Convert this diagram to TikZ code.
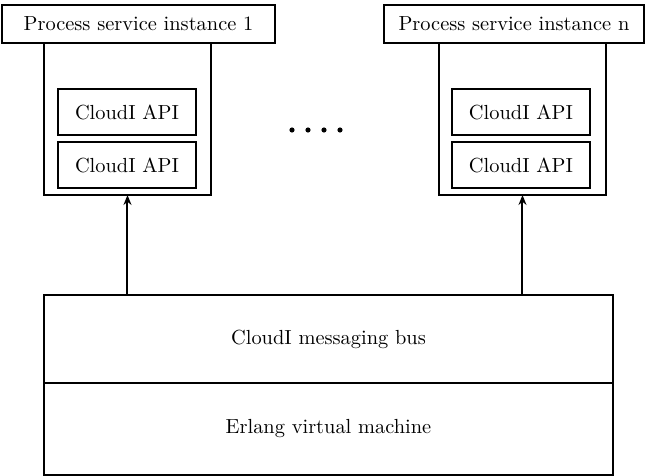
\documentclass[tikz,border=0pt]{standalone}
\usetikzlibrary{arrows.meta,calc}
\begin{document}
\begin{tikzpicture}[x=0.5pt,y=-0.5pt,
  box/.style={draw,line width=1pt,inner sep=0pt,outer sep=0pt,font=\fontsize{10.2}{12}\selectfont},
  arr/.style={line width=1pt,-{Stealth[length=5pt,width=4pt]}}]
\useasboundingbox (0,0) rectangle (645,476);
% outer boxes
\draw[box] (44,43) rectangle (211,195);
\node (outer1) [minimum width=83.5pt,minimum height=76pt,inner sep=0pt,outer sep=0pt] at (127.5,119) {};
\draw[box] (439,43) rectangle (606,195);
\node (outer2) [minimum width=83.5pt,minimum height=76pt,inner sep=0pt,outer sep=0pt] at (522.5,119) {};
% titles
\node[box,fill=white,minimum width=136.5pt,minimum height=19pt] (t1) at (138.5,24) {Process service instance 1};
\node[box,fill=white,minimum width=130pt,minimum height=19pt] (t2) at (644,24) [anchor=east] {Process service instance n};
% APIs
\node[box,minimum width=69pt,minimum height=23pt] (a1) at (127,112) {CloudI API};
\node[box,minimum width=69pt,minimum height=23pt] (b1) at (127,165) {CloudI API};
\node[box,minimum width=69pt,minimum height=23pt] (a2) at (521,112) {CloudI API};
\node[box,minimum width=69pt,minimum height=23pt] (b2) at (521,165) {CloudI API};
% dots
\foreach \x in {292,308,324,340} \fill (\x,130) circle (2.6);
% bottom
\node[box,minimum width=284.5pt,minimum height=44pt] (bus) at (328.5,339) {CloudI messaging bus};
\node[box,minimum width=284.5pt,minimum height=46pt,anchor=north] (vm) at (bus.south) {Erlang virtual machine};
% arrows
\draw[arr] (outer1.south |- bus.north) -- (outer1.south);
\draw[arr] (outer2.south |- bus.north) -- (outer2.south);
\end{tikzpicture}
\end{document}
